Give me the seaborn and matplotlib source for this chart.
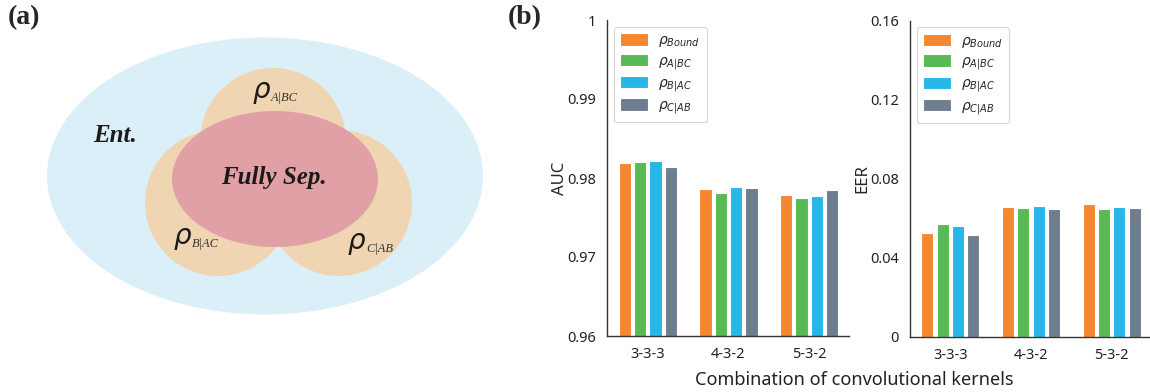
import matplotlib

matplotlib.use("Agg")
import matplotlib.pyplot as plt
import pandas as pd
import seaborn as sns
from matplotlib.patches import Circle, Ellipse

kernels = ["3-3-3", "4-3-2", "5-3-2"]
states = [r"$\rho_{Bound}$", r"$\rho_{A|BC}$", r"$\rho_{B|AC}$", r"$\rho_{C|AB}$"]
auc_bound = [0.98194, 0.97861, 0.97789]
auc_a = [0.98200, 0.97810, 0.97743]
auc_b = [0.98215, 0.97886, 0.97776]
auc_c = [0.98139, 0.97877, 0.97848]
eer_bound = [0.0522, 0.0657, 0.0672]
eer_a = [0.0571, 0.0652, 0.0647]
eer_b = [0.0559, 0.0662, 0.0657]
eer_c = [0.0515, 0.0647, 0.0652]
auc_ticks = [0.96, 0.97, 0.98, 0.99, 1.0]
auc_tick_labels = ["0.96", "0.97", "0.98", "0.99", "1"]
eer_ticks = [0, 0.04, 0.08, 0.12, 0.16]
eer_tick_labels = ["0", "0.04", "0.08", "0.12", "0.16"]

palette = ["#f5872f", "#58ba52", "#26b6e8", "#6e7e8e"]


def _long(series):
    rows = []
    for state, values in zip(states, series):
        for kernel, value in zip(kernels, values):
            rows.append({"kernel": kernel, "state": state, "value": value})
    return pd.DataFrame(rows)


auc_df = _long([auc_bound, auc_a, auc_b, auc_c])
eer_df = _long([eer_bound, eer_a, eer_b, eer_c])

sns.set_theme(style="white")
plt.rcParams["font.family"] = ["Noto Sans", "DejaVu Sans"]
plt.rcParams["mathtext.fontset"] = "dejavusans"

fig = plt.figure(figsize=(11.5, 3.92), dpi=100)

# (a) diagram, drawn in pixel-like coordinates
ax_a = fig.add_axes([0, 0, 500 / 1150, 1])
ax_a.set_xlim(0, 500)
ax_a.set_ylim(392, 0)
ax_a.axis("off")
ax_a.add_patch(Ellipse((265, 176), 436, 277, color="#dbeff9", lw=0))
for cx, cy in [(273, 141), (218, 203), (339, 203)]:
    ax_a.add_patch(Circle((cx, cy), 73, color="#efd5b1", lw=0))
ax_a.add_patch(Ellipse((275, 179), 206, 136, color="#e1a0a5", lw=0))
serif = ["Liberation Serif", "DejaVu Serif"]
ax_a.text(115, 135, "Ent.", family=serif, weight="bold", style="italic",
          fontsize=18, ha="center", va="center", color="#1a1a1a")
ax_a.text(274, 177, "Fully Sep.", family=serif, weight="bold", style="italic",
          fontsize=18, ha="center", va="center", color="#1a1a1a")
for x, y, sub in [(262, 92, "A|BC"), (183, 238, "B|AC"), (357, 243, "C|AB")]:
    ax_a.text(x, y, r"$\rho$", fontsize=20, ha="center", va="center",
              math_fontfamily="dejavusans", color="#1a1a1a")
    ax_a.text(x + 9, y + 6, sub, family=serif, style="italic", fontsize=9,
              ha="left", va="center", color="#333333")
fig.text(8 / 1150, 1 - 18 / 392, "(a)", family=serif, weight="bold",
         fontsize=20, ha="left", va="center")
fig.text(508 / 1150, 1 - 18 / 392, "(b)", family=serif, weight="bold",
         fontsize=20, ha="left", va="center")

# (b) bar charts
ax_auc = fig.add_axes([607.5 / 1150, 1 - 336 / 392, 242 / 1150, 316 / 392])
ax_eer = fig.add_axes([910 / 1150, 1 - 336.5 / 392, 242 / 1150, 316 / 392])

for ax, df, ylim, ticks, labels, name in [
    (ax_auc, auc_df, (0.96, 1.0), auc_ticks, auc_tick_labels, "AUC"),
    (ax_eer, eer_df, (0, 0.16), eer_ticks, eer_tick_labels, "EER"),
]:
    sns.barplot(data=df, x="kernel", y="value", hue="state", palette=palette,
                width=0.76, gap=0.2, ax=ax, edgecolor="white", linewidth=0.8,
                saturation=1)
    ax.set_ylim(*ylim)
    ax.set_yticks(ticks)
    ax.set_yticklabels(labels)
    ax.set_xlabel("")
    ax.set_ylabel(name, fontsize=12, labelpad=0)
    ax.tick_params(axis="both", length=0, labelsize=10.5, pad=8, colors="#222222")
    sns.despine(ax=ax)
    for side in ["left", "bottom"]:
        ax.spines[side].set_color("#333333")
        ax.spines[side].set_linewidth(1.0)
    leg = ax.legend(loc="upper left", bbox_to_anchor=(0.027, 0.978),
                    borderaxespad=0, fontsize=10, frameon=True,
                    handlelength=2.0, handleheight=1.0, labelspacing=0.32,
                    handletextpad=0.75, borderpad=0.45)
    leg.get_frame().set_edgecolor("#cccccc")
    leg.get_frame().set_linewidth(0.8)

fig.text(854 / 1150, 1 - 380 / 392, "Combination of convolutional kernels",
         fontsize=13, ha="center", va="center", color="#222222")

fig.savefig("out.png", dpi=100)
